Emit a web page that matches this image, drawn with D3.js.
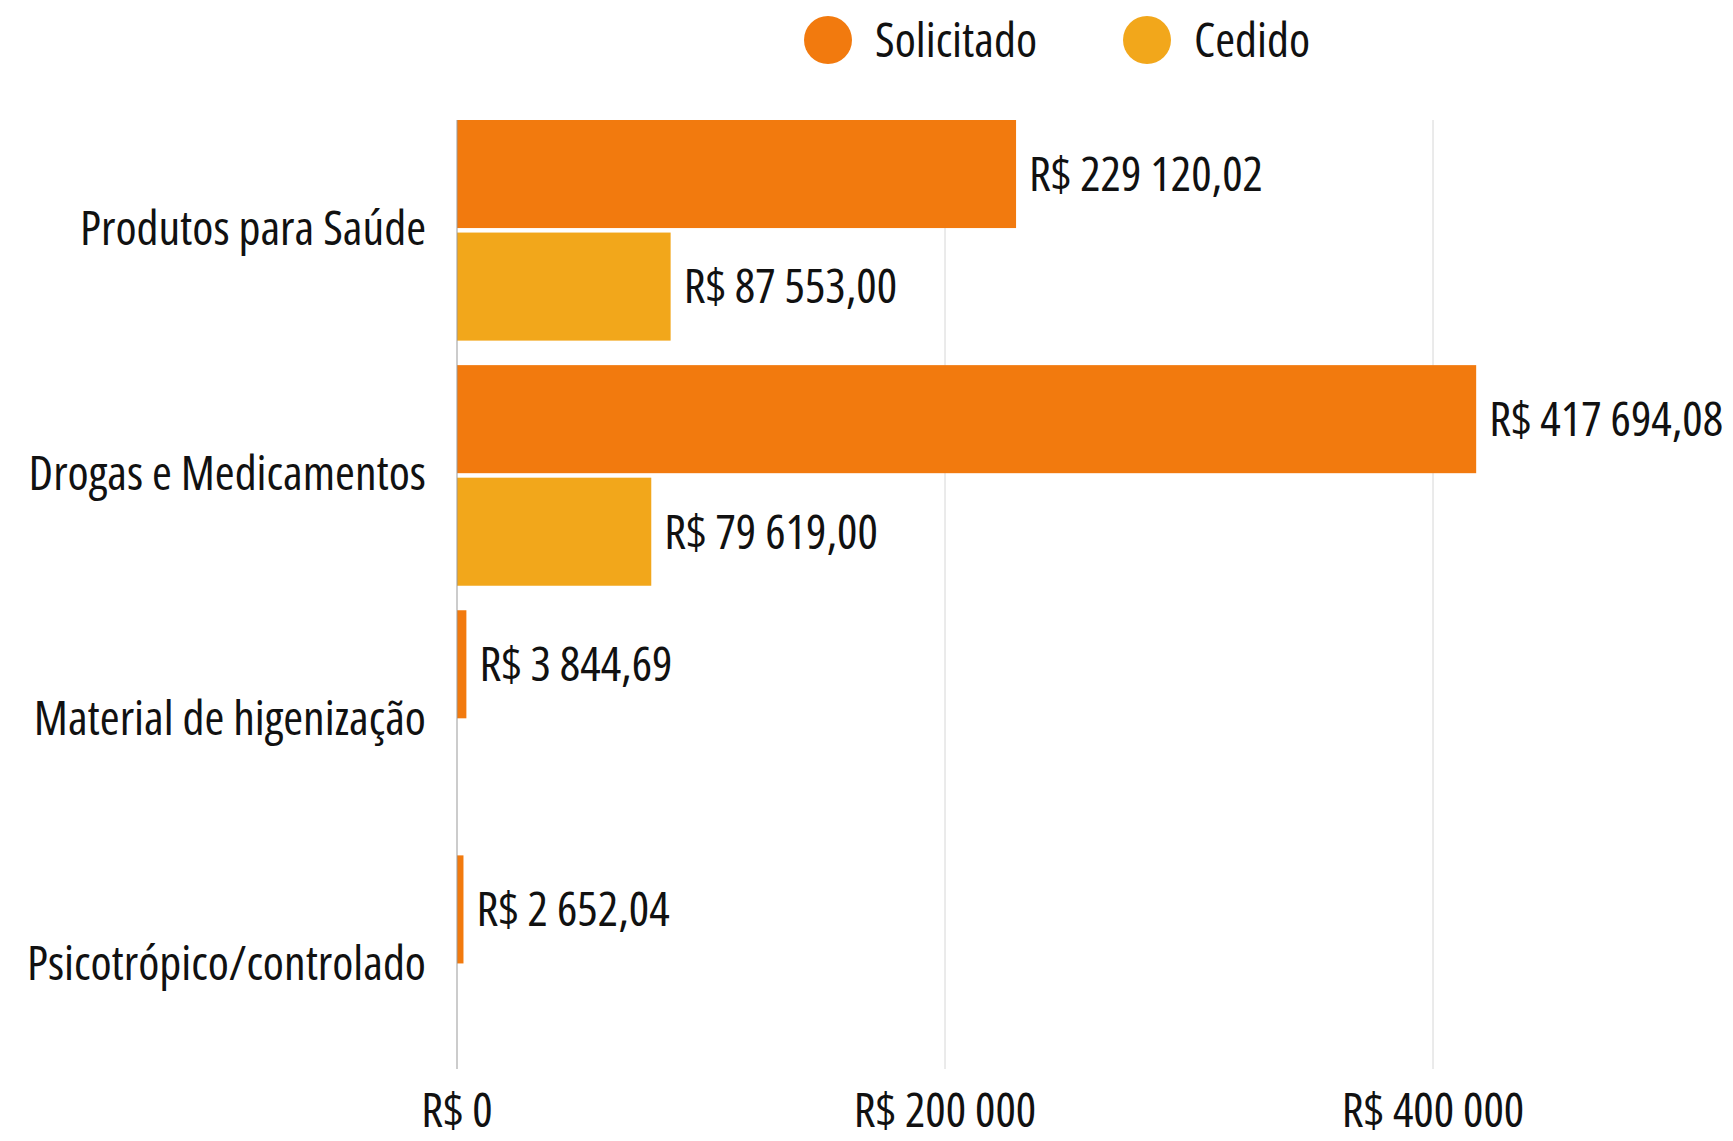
<!DOCTYPE html>
<html>
<head>
<meta charset="utf-8">
<script src="https://cdn.jsdelivr.net/npm/d3@7"></script>
<style>
  html, body { margin: 0; padding: 0; background: #fff; }
  svg text { font-family: "Open Sans", sans-serif; font-stretch: 75%; fill: #111; }
</style>
</head>
<body>
<div id="chart"></div>
<script>
// data
var categories = ["Produtos para Saúde", "Drogas e Medicamentos", "Material de higenização", "Psicotrópico/controlado"];
var seriesNames = ["Solicitado", "Cedido"];
var solicitado = [229120.02, 417694.08, 3844.69, 2652.04];
var cedido = [87553.00, 79619.00, null, null];
var xTicks = [0, 200000, 400000];

var colors = { "Solicitado": "#f27a0e", "Cedido": "#f2a71b" };

var width = 1733, height = 1141;
var margin = { top: 120, right: 10, bottom: 69, left: 457 };
var fontSize = 48;

var locale = d3.formatLocale({ decimal: ",", thousands: " ", grouping: [3], currency: ["R$ ", ""] });
var fmtValue = locale.format("$,.2f");
var fmtTick = locale.format("$,.0f");

var rows = categories.map(function(c, i) {
    return { category: c, values: [
        { key: "Solicitado", value: solicitado[i] },
        { key: "Cedido", value: cedido[i] }
    ] };
});

var svg = d3.select("#chart").append("svg")
    .attr("width", width)
    .attr("height", height);

var x = d3.scaleLinear()
    .domain([0, 200000])
    .range([margin.left, 945]);

var y = d3.scaleBand()
    .domain(categories)
    .range([margin.top, 1076])
    .paddingInner(0.1)
    .paddingOuter(0);

var ySub = d3.scaleBand()
    .domain(seriesNames)
    .range([0, y.bandwidth()])
    .paddingInner(0.04);

var plotBottom = height - margin.bottom - 3;

// gridlines
svg.append("g").selectAll("line")
    .data(xTicks.filter(function(d) { return d > 0; }))
    .enter().append("line")
    .attr("x1", function(d) { return x(d); })
    .attr("x2", function(d) { return x(d); })
    .attr("y1", margin.top)
    .attr("y2", plotBottom)
    .attr("stroke", "#d6d6d6")
    .attr("stroke-width", 1);

// bars
var groups = svg.append("g").selectAll("g")
    .data(rows)
    .enter().append("g")
    .attr("transform", function(d) { return "translate(0," + y(d.category) + ")"; });

var bars = groups.selectAll("g")
    .data(function(d) { return d.values.filter(function(v) { return v.value != null; }); })
    .enter().append("g");

bars.append("rect")
    .attr("x", x(0))
    .attr("y", function(d) { return ySub(d.key); })
    .attr("width", function(d) { return x(d.value) - x(0); })
    .attr("height", ySub.bandwidth())
    .attr("fill", function(d) { return colors[d.key]; });

bars.append("text")
    .attr("x", function(d) { return x(d.value) + 13; })
    .attr("y", function(d) { return ySub(d.key) + ySub.bandwidth() / 2; })
    .attr("dy", "0.35em")
    .style("font-size", fontSize + "px")
    .text(function(d) { return fmtValue(d.value); });

// zero axis line
svg.append("line")
    .attr("x1", x(0)).attr("x2", x(0))
    .attr("y1", margin.top).attr("y2", plotBottom)
    .attr("stroke", "#999")
    .attr("stroke-width", 1);

// category labels
svg.append("g").selectAll("text")
    .data(categories)
    .enter().append("text")
    .attr("x", margin.left - 31)
    .attr("y", function(d) { return y(d) + y.bandwidth() / 2; })
    .attr("dy", "0.3em")
    .attr("text-anchor", "end")
    .style("font-size", fontSize + "px")
    .text(function(d) { return d; });

// x tick labels
svg.append("g").selectAll("text")
    .data(xTicks)
    .enter().append("text")
    .attr("x", function(d) { return x(d); })
    .attr("y", 1127)
    .attr("text-anchor", "middle")
    .style("font-size", fontSize + "px")
    .text(function(d) { return fmtTick(d); });

// legend
var legendX = [828, 1147];
var legend = svg.append("g").selectAll("g")
    .data(seriesNames)
    .enter().append("g")
    .attr("transform", function(d, i) { return "translate(" + legendX[i] + ",40)"; });

legend.append("circle")
    .attr("r", 24)
    .attr("fill", function(d) { return colors[d]; });

legend.append("text")
    .attr("x", 47)
    .attr("dy", "0.35em")
    .style("font-size", fontSize + "px")
    .text(function(d) { return d; });
</script>
</body>
</html>
